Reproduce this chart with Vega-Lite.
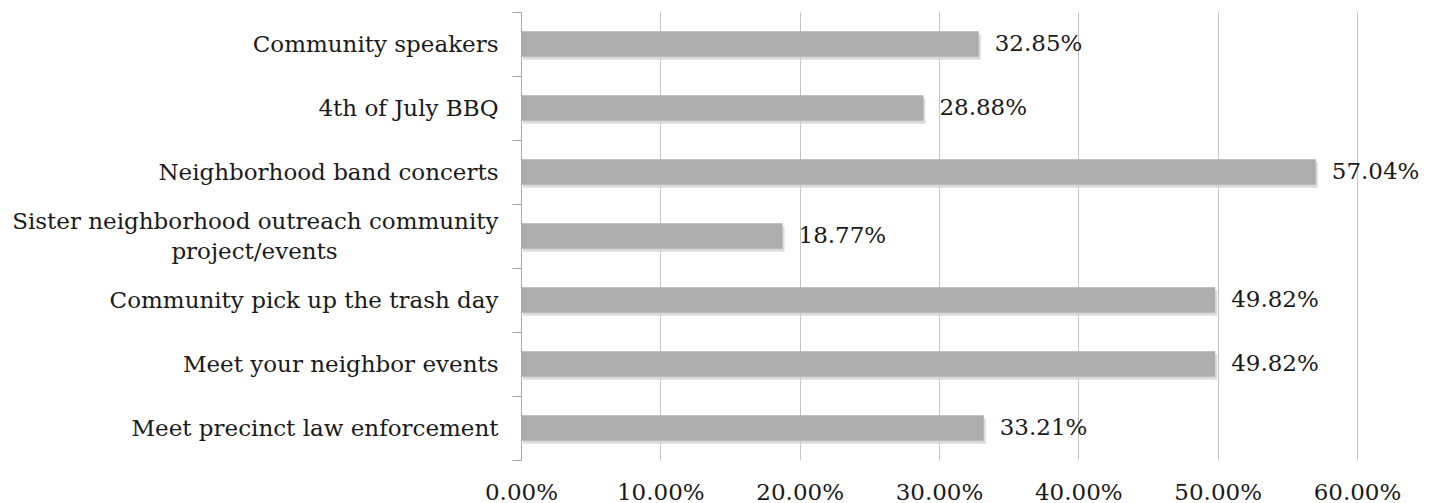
{
  "$schema": "https://vega.github.io/schema/vega-lite/v6.json",
  "autosize": "none",
  "width": 836,
  "height": 448,
  "padding": {"left": 521, "top": 12, "right": 81, "bottom": 43},
  "background": "white",
  "data": {
    "values": [
      {"activity": "Community speakers", "share": 0.3285},
      {"activity": "4th of July BBQ", "share": 0.2888},
      {"activity": "Neighborhood band concerts", "share": 0.5704},
      {"activity": "Sister neighborhood outreach community project/events", "share": 0.1877},
      {"activity": "Community pick up the trash day", "share": 0.4982},
      {"activity": "Meet your neighbor events", "share": 0.4982},
      {"activity": "Meet precinct law enforcement", "share": 0.3321}
    ]
  },
  "encoding": {
    "y": {
      "field": "activity",
      "type": "nominal",
      "sort": null,
      "title": null,
      "scale": {"paddingInner": 0, "paddingOuter": 0},
      "axis": {
        "domainColor": "#a6a6a6",
        "tickColor": "#a6a6a6",
        "tickBand": "extent",
        "tickSize": 9,
        "labelPadding": 14,
        "labelFont": "DejaVu Serif",
        "labelFontSize": 23,
        "labelColor": "#1a1a1a",
        "labelLineHeight": 30,
        "labelLimit": 600,
        "labelOffset": {
          "condition": {"test": "datum.value == 'Sister neighborhood outreach community project/events'", "value": -15},
          "value": 0
        },
        "labelExpr": "datum.label == 'Sister neighborhood outreach community project/events' ? ['Sister neighborhood outreach community', 'project/events\u00a0\u00a0\u00a0\u00a0\u00a0\u00a0\u00a0\u00a0\u00a0\u00a0\u00a0\u00a0\u00a0\u00a0\u00a0\u00a0\u00a0\u00a0\u00a0\u00a0\u00a0\u00a0\u200b'] : datum.label"
      }
    },
    "x": {
      "field": "share",
      "type": "quantitative",
      "title": null,
      "scale": {"domain": [0, 0.6], "nice": false},
      "axis": {
        "format": ".2%",
        "values": [0, 0.1, 0.2, 0.3, 0.4, 0.5, 0.6],
        "domain": false,
        "ticks": false,
        "grid": true,
        "gridColor": "#c4c4c4",
        "labelFlush": false,
        "labelOverlap": false,
        "labelPadding": 21,
        "labelFont": "DejaVu Serif",
        "labelFontSize": 23,
        "labelColor": "#1a1a1a"
      }
    }
  },
  "layer": [
    {
      "mark": {"type": "bar", "color": "#d2d2d2", "opacity": 0.8, "xOffset": 2, "yOffset": 3, "height": {"band": 0.4}}
    },
    {
      "mark": {"type": "bar", "color": "#adadad", "height": {"band": 0.4}}
    },
    {
      "mark": {"type": "text", "align": "left", "dx": 16, "font": "DejaVu Serif", "fontSize": 23, "color": "#1a1a1a"},
      "encoding": {
        "text": {"field": "share", "type": "quantitative", "format": ".2%"}
      }
    }
  ],
  "config": {
    "view": {"stroke": null}
  }
}
